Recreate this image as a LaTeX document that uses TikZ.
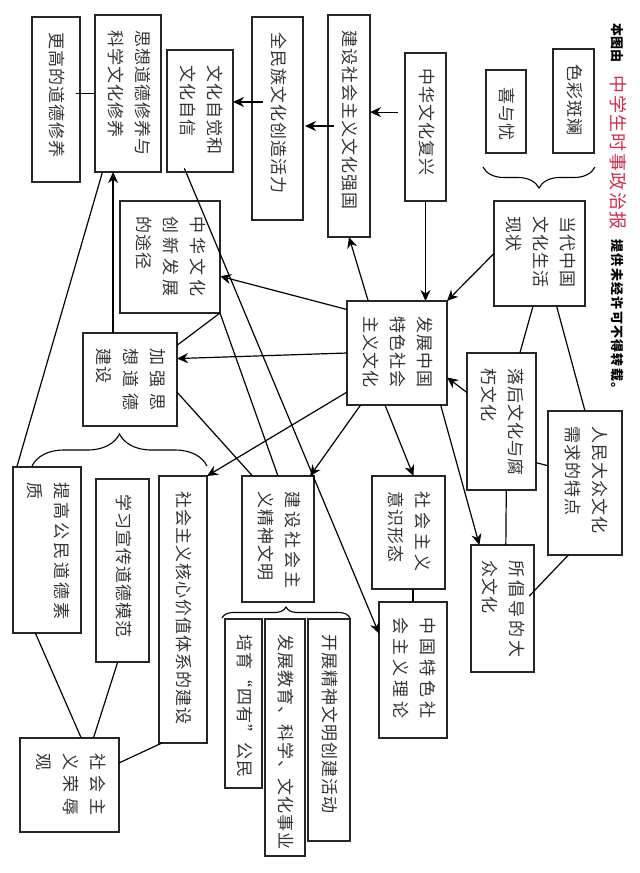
\documentclass[tikz,border=0pt]{standalone}
\usepackage{xcolor}
\usepackage{fontspec}
\setmainfont{Noto Sans CJK SC}
\usetikzlibrary{arrows.meta, decorations.pathreplacing}

\definecolor{inkred}{HTML}{C8304C}
\newcommand{\ws}[2]{{\addfontfeature{LetterSpace=#1}#2}}
\newcommand{\vtext}[2]{\rotatebox{-90}{\fontsize{17}{27}\selectfont\addfontfeature{LetterSpace=6}\makebox[#1pt][l]{\begin{tabular}{@{}l@{}}#2\end{tabular}}}}
\tikzset{
  box/.style={draw=black!85, text=black!80, inner sep=0pt, outer sep=0pt, line width=1.3pt},
  wmtext/.style={rotate=-90, inner sep=0pt, text=black, font=\fontsize{13}{13}\selectfont\bfseries},
  bracket/.style={decorate, decoration={brace, amplitude=#1, raise=0pt}, line width=1.1pt}
}

\begin{document}
\begin{tikzpicture}[x=1pt, y=-1pt, >={Stealth[length=11pt, width=10pt]}, line width=1.2pt]
\useasboundingbox (0,0) rectangle (640,873);

% Cajas
\node[box, minimum width=41pt, minimum height=104pt] (secai) at (573.5,101) {\vtext{74}{色彩斑斓}};
\node[box, minimum width=40pt, minimum height=83pt] (xiyou) at (506,111.5) {\vtext{49}{喜与忧}};
\node[box, minimum width=91pt, minimum height=105pt] (xianzhuang) at (539.5,253.5) {\vtext{75}{当代中国\\文化生活\\现状}};
\node[box, minimum width=41pt, minimum height=148pt] (fuxing) at (425.5,127) {\vtext{118}{中华文化复兴}};
\node[box, minimum width=42pt, minimum height=222pt] (qiangguo) at (349,126) {\vtext{192}{建设社会主义文化强国}};
\node[box, minimum width=100pt, minimum height=104pt] (fazhan) at (397,353) {\vtext{74}{发展中国\\特色社会\\主义文化}};
\node[box, minimum width=69pt, minimum height=137pt] (luohou) at (501.5,421.5) {\vtext{107}{落后文化与腐\\朽文化}};
\node[box, minimum width=74pt, minimum height=144pt] (tedian) at (585,483) {\vtext{114}{人民大众文化\\需求的特点}};
\node[box, minimum width=63pt, minimum height=127pt] (changdao) at (502.5,608.5) {\vtext{97}{\ws{18}{所倡导的大}\\众文化}};
\node[box, minimum width=73pt, minimum height=113pt] (yishi) at (408.5,532.5) {\vtext{83}{\ws{24}{社会主义}\\意识形态}};
\node[box, minimum width=68pt, minimum height=136pt] (lilun) at (413,670) {\vtext{106}{\ws{24}{中国特色社}\\\ws{24}{会主义理论}}};
\node[box, minimum width=42pt, minimum height=222pt] (chuangjian) at (329,730) {\vtext{192}{开展精神文明创建活动}};
\node[box, minimum width=40pt, minimum height=237pt] (jiaoyu) at (285,737.5) {\vtext{207}{发展教育、科学、文化事业}};
\node[box, minimum width=37pt, minimum height=169pt] (siyou) at (243.5,703.5) {\vtext{139}{培育“四有”公民}};
\node[box, minimum width=72pt, minimum height=126pt] (jingshen) at (278,539) {\vtext{96}{\ws{18}{建设社会主}\\义精神文明}};
\node[box, minimum width=48pt, minimum height=267pt] (hexin) at (183,609.5) {\vtext{237}{社会主义核心价值体系的建设}};
\node[box, minimum width=53pt, minimum height=183pt] (mofan) at (122.5,570.5) {\vtext{153}{学习宣传道德模范}};
\node[box, minimum width=68pt, minimum height=166pt] (suzhi) at (47,550) {\vtext{136}{\ws{18}{提高公民道德素}\\质}};
\node[box, minimum width=99pt, minimum height=94pt] (rongru) at (69.5,785) {\vtext{64}{\ws{35}{社会主}\\\ws{35}{义荣辱}\\观}};
\node[box, minimum width=48pt, minimum height=165pt] (genggao) at (56,99.5) {\vtext{135}{更高的道德修养}};
\node[box, minimum width=66pt, minimum height=157pt] (xiuyang) at (128,93.5) {\vtext{127}{思想道德修养与\\科学文化修养}};
\node[box, minimum width=66pt, minimum height=122pt] (zixin) at (200,111) {\vtext{92}{文化自觉和\\文化自信}};
\node[box, minimum width=51pt, minimum height=203pt] (huoli) at (277.5,118.5) {\vtext{173}{全民族文化创造活力}};
\node[box, minimum width=100pt, minimum height=112pt] (tujing) at (170,257) {\vtext{82}{\ws{24}{中华文化}\\\ws{24}{创新发展}\\的途径}};
\node[box, minimum width=94pt, minimum height=93pt] (daode) at (130,379.5) {\vtext{63}{\ws{35}{加强思}\\\ws{35}{想道德}\\建设}};

% Texto del margen
\node[wmtext, anchor=west] (wmbegin) at (617,23) {本图由};
\node[wmtext, anchor=west, text=inkred, font=\fontsize{18}{18}\selectfont] (wmname) at (618,75) {\addfontfeature{LetterSpace=8}中学生时事政治报};
\node[wmtext, anchor=west] (wmend) at (617,239) {\addfontfeature{LetterSpace=10}提供未经许可不得转载。};

% Conexiones
\path
(fazhan.119) edge[->] (qiangguo.south)
(fuxing.south) edge[->] (fuxing.south |- fazhan.north)
(xianzhuang.west) edge[->] (fazhan.north east)
(fazhan.139) edge[->] (tujing.339)
(fazhan.west) edge[->] (daode.24)
(fazhan.218) edge[->] (hexin.north east)
(fazhan.235) edge[->] (jingshen.63)
(fazhan.257) edge[->] (yishi.85)
(fazhan.310) edge[->] (changdao.110)
(luohou.140) edge[->] (fazhan.334)
(xianzhuang.263) edge (luohou.75)
(xianzhuang.288) edge (tedian.north)
(luohou.310) edge (tedian.155)
(luohou.274) edge (changdao.87)
(tedian.257) edge[shorten >=-7pt] (changdao.29)
(lilun.north |- yishi.south) edge (lilun.north)
(zixin.257) edge[->, shorten <=-4pt] (lilun.133)
(tujing.south east) edge (jingshen.north)
(tujing.south east) edge (daode.36)
(daode.345) edge (jingshen.112)
(daode.110) edge[->] (daode.110 |- xiuyang.south)
(xiuyang.west) edge[shorten >=-4pt] (xiuyang.west -| genggao.east)
(suzhi.110) edge (xiuyang.252)
(suzhi.262) edge (rongru.76)
(mofan.267) edge (rongru.63)
(hexin.261) edge (rongru.24)
(qiangguo.west) edge[->, shorten <=-6pt, shorten >=2pt] (qiangguo.west -| huoli.east)
(huoli.147) edge[->, shorten <=-11pt] (huoli.147 -| zixin.east)
(fuxing.144) edge[->, shorten <=7pt] (fuxing.144 -| qiangguo.east);

% Llaves
\coordinate (topA) at (595,167);
\coordinate (topB) at (483,167);
\coordinate (leftA) at (32,466);
\coordinate (leftB) at (207,466);
\coordinate (lowA) at (222,618);
\coordinate (lowB) at (350,618);
\draw[bracket=21pt] (topA) -- (topB);
\draw[bracket=32pt] (leftA) -- (leftB);
\draw[bracket=11pt] (lowA) -- (lowB);
\end{tikzpicture}
\end{document}
